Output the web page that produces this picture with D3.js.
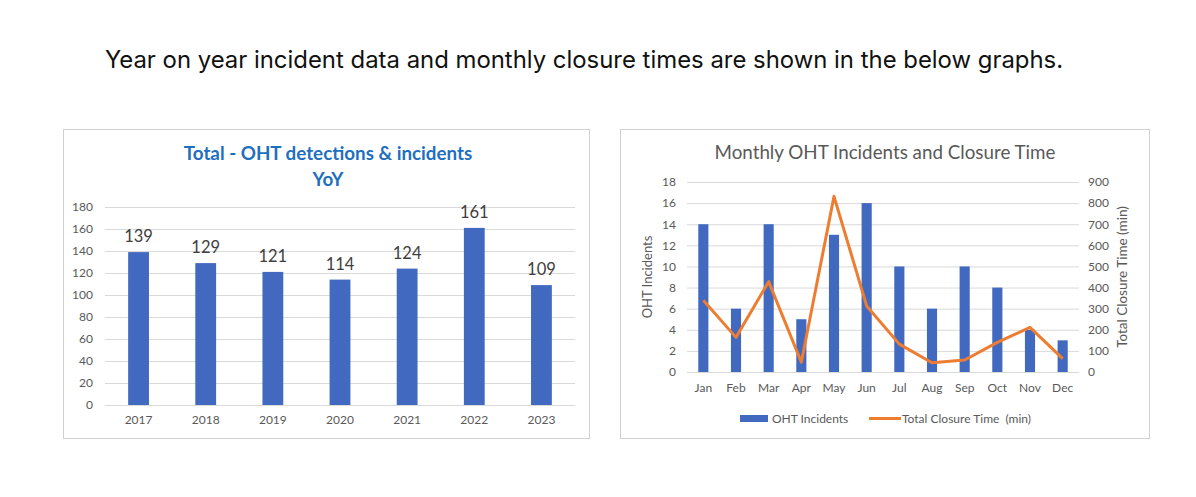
<!DOCTYPE html>
<html>
<head>
<meta charset="utf-8">
<script src="https://cdn.jsdelivr.net/npm/d3@7"></script>
<style>
  body { margin: 0; background: #fff; }
  text { font-family: Lato, "Open Sans", sans-serif; }
</style>
</head>
<body>
<div id="page"></div>
<script>
// yearly totals (left chart)
var years = ["2017", "2018", "2019", "2020", "2021", "2022", "2023"];
var yearTotals = [139, 129, 121, 114, 124, 161, 109];
var yearTicks = [0, 20, 40, 60, 80, 100, 120, 140, 160, 180];

// monthly data (right chart)
var months = ["Jan", "Feb", "Mar", "Apr", "May", "Jun", "Jul", "Aug", "Sep", "Oct", "Nov", "Dec"];
var monthIncidents = [14, 6, 14, 5, 13, 16, 10, 6, 10, 8, 4, 3];
var closureTime = [340, 164, 428, 46, 832, 313, 132, 44, 57, 140, 211, 63];
var incidentTicks = [0, 2, 4, 6, 8, 10, 12, 14, 16, 18];
var closureTicks = [0, 100, 200, 300, 400, 500, 600, 700, 800, 900];

var width = 1196;
var height = 497;
var barColor = "#4169c0";
var lineColor = "#ed7d31";
var gridColor = "#d9d9d9";
var tickColor = "#595959";

var svg = d3.select("#page").append("svg")
    .attr("width", width)
    .attr("height", height);

svg.append("text")
    .attr("x", 584)
    .attr("y", 68)
    .attr("text-anchor", "middle")
    .attr("font-size", "23.9px")
    .attr("fill", "#111")
    .style("font-family", "Inter, sans-serif")
    .text("Year on year incident data and monthly closure times are shown in the below graphs.");

// ---------- left chart ----------
var left = svg.append("g");

left.append("rect")
    .attr("x", 63.5).attr("y", 129.5)
    .attr("width", 526).attr("height", 309)
    .attr("fill", "#fff")
    .attr("stroke", "#d0d0d0");

left.append("text")
    .attr("x", 328).attr("y", 160)
    .attr("text-anchor", "middle")
    .attr("font-size", "18.8px")
    .attr("font-weight", "bold")
    .attr("fill", "#1f6fc0")
    .text("Total - OHT detections & incidents");

left.append("text")
    .attr("x", 328).attr("y", 186)
    .attr("text-anchor", "middle")
    .attr("font-size", "18.8px")
    .attr("font-weight", "bold")
    .attr("fill", "#1f6fc0")
    .text("YoY");

var xYear = d3.scaleBand()
    .domain(years)
    .range([105, 575])
    .paddingInner(0.69)
    .paddingOuter(0.345);

var yTotal = d3.scaleLinear()
    .domain([0, 180])
    .range([405, 207]);

left.append("g")
    .selectAll("line")
    .data(yearTicks)
    .enter()
    .append("line")
    .attr("x1", 105).attr("x2", 575)
    .attr("y1", d => yTotal(d) + 0.5)
    .attr("y2", d => yTotal(d) + 0.5)
    .attr("stroke", gridColor);

var leftAxis = d3.axisLeft(yTotal).tickValues(yearTicks).tickSize(0).tickPadding(0);
left.append("g")
    .attr("transform", "translate(93, 0)")
    .call(leftAxis)
    .call(g => g.select(".domain").remove())
    .selectAll("text")
    .attr("font-size", "12px")
    .attr("fill", tickColor)
    .style("font-family", "Lato, sans-serif");

var bottomAxis = d3.axisBottom(xYear).tickSize(0).tickPadding(0);
left.append("g")
    .attr("transform", "translate(0, 415)")
    .call(bottomAxis)
    .call(g => g.select(".domain").remove())
    .selectAll("text")
    .attr("font-size", "12px")
    .attr("fill", tickColor)
    .style("font-family", "Lato, sans-serif");

left.selectAll(".yearBar")
    .data(years)
    .enter()
    .append("rect")
    .attr("class", "yearBar")
    .attr("x", d => xYear(d))
    .attr("width", xYear.bandwidth())
    .attr("y", (d, i) => yTotal(yearTotals[i]))
    .attr("height", (d, i) => yTotal(0) - yTotal(yearTotals[i]))
    .attr("fill", barColor);

left.selectAll(".yearLabel")
    .data(years)
    .enter()
    .append("text")
    .attr("class", "yearLabel")
    .attr("x", d => xYear(d) + xYear.bandwidth() / 2)
    .attr("y", (d, i) => yTotal(yearTotals[i]) - 10)
    .attr("text-anchor", "middle")
    .attr("font-size", "16.5px")
    .attr("fill", "#404040")
    .text((d, i) => yearTotals[i]);

// ---------- right chart ----------
var right = svg.append("g");

right.append("rect")
    .attr("x", 620.5).attr("y", 129.5)
    .attr("width", 529).attr("height", 309)
    .attr("fill", "#fff")
    .attr("stroke", "#d0d0d0");

right.append("text")
    .attr("x", 885).attr("y", 159)
    .attr("text-anchor", "middle")
    .attr("font-size", "18.8px")
    .attr("fill", "#595959")
    .text("Monthly OHT Incidents and Closure Time");

var xMonth = d3.scaleBand()
    .domain(months)
    .range([687, 1079])
    .paddingInner(0.69)
    .paddingOuter(0.345);

var yInc = d3.scaleLinear()
    .domain([0, 18])
    .range([372, 182]);

var yClose = d3.scaleLinear()
    .domain([0, 900])
    .range([372, 182]);

right.append("g")
    .selectAll("line")
    .data(incidentTicks)
    .enter()
    .append("line")
    .attr("x1", 687).attr("x2", 1079)
    .attr("y1", d => yInc(d) + 0.5)
    .attr("y2", d => yInc(d) + 0.5)
    .attr("stroke", gridColor);

var incAxis = d3.axisLeft(yInc).tickValues(incidentTicks).tickSize(0).tickPadding(0);
right.append("g")
    .attr("transform", "translate(676, 0)")
    .call(incAxis)
    .call(g => g.select(".domain").remove())
    .selectAll("text")
    .attr("font-size", "12px")
    .attr("fill", tickColor)
    .style("font-family", "Lato, sans-serif");

var closeAxis = d3.axisRight(yClose).tickValues(closureTicks).tickSize(0).tickPadding(0);
right.append("g")
    .attr("transform", "translate(1088, 0)")
    .call(closeAxis)
    .call(g => g.select(".domain").remove())
    .selectAll("text")
    .attr("font-size", "12px")
    .attr("fill", tickColor)
    .style("font-family", "Lato, sans-serif");

var monthAxis = d3.axisBottom(xMonth).tickSize(0).tickPadding(0);
right.append("g")
    .attr("transform", "translate(0, 383)")
    .call(monthAxis)
    .call(g => g.select(".domain").remove())
    .selectAll("text")
    .attr("font-size", "12px")
    .attr("fill", tickColor)
    .style("font-family", "Lato, sans-serif");

right.append("text")
    .attr("transform", "translate(652, 277) rotate(-90)")
    .attr("text-anchor", "middle")
    .attr("font-size", "13px")
    .attr("fill", tickColor)
    .text("OHT Incidents");

right.append("text")
    .attr("transform", "translate(1127, 277) rotate(-90)")
    .attr("text-anchor", "middle")
    .attr("font-size", "13.5px")
    .attr("fill", tickColor)
    .text("Total Closure Time (min)");

right.selectAll(".monthBar")
    .data(months)
    .enter()
    .append("rect")
    .attr("class", "monthBar")
    .attr("x", d => xMonth(d))
    .attr("width", xMonth.bandwidth())
    .attr("y", (d, i) => yInc(monthIncidents[i]))
    .attr("height", (d, i) => yInc(0) - yInc(monthIncidents[i]))
    .attr("fill", barColor);

var line = d3.line()
    .x((d, i) => xMonth(months[i]) + xMonth.bandwidth() / 2)
    .y(d => yClose(d));

right.append("path")
    .datum(closureTime)
    .attr("d", line)
    .attr("fill", "none")
    .attr("stroke", lineColor)
    .attr("stroke-width", 3)
    .attr("stroke-linejoin", "round");

// legend
right.append("rect")
    .attr("x", 740).attr("y", 415)
    .attr("width", 28).attr("height", 7)
    .attr("fill", barColor);

right.append("text")
    .attr("x", 772).attr("y", 423)
    .attr("font-size", "12px")
    .attr("fill", tickColor)
    .text("OHT Incidents");

right.append("line")
    .attr("x1", 869).attr("x2", 901)
    .attr("y1", 418.5).attr("y2", 418.5)
    .attr("stroke", lineColor)
    .attr("stroke-width", 3);

right.append("text")
    .attr("x", 902).attr("y", 423)
    .attr("font-size", "12px")
    .attr("fill", tickColor)
    .style("white-space", "pre")
    .text("Total Closure Time  (min)");
</script>
</body>
</html>
